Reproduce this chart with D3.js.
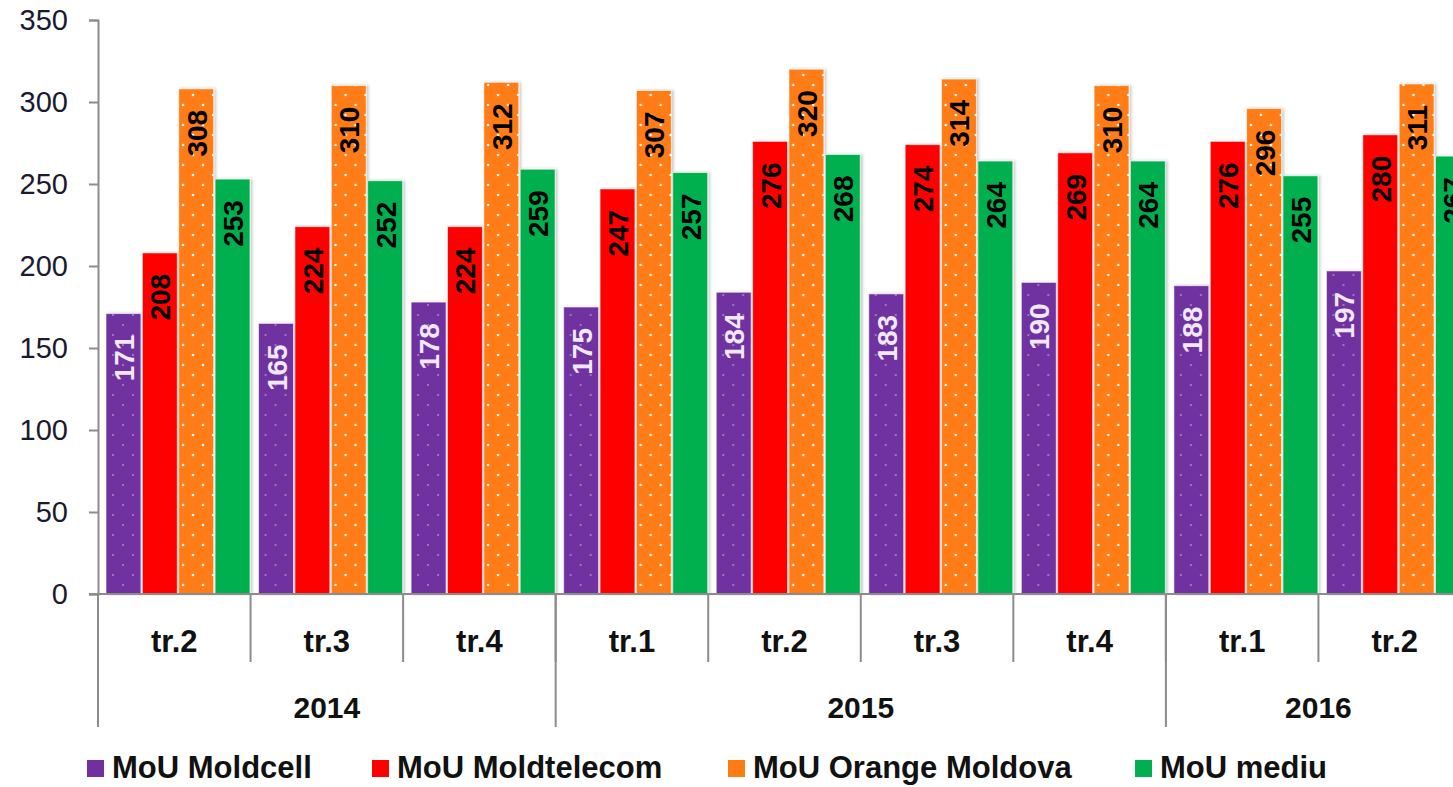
<!DOCTYPE html>
<html><head><meta charset="utf-8">
<script src="https://cdn.jsdelivr.net/npm/d3@7"></script>
<style>body{margin:0;background:#fff;overflow:hidden}svg{display:block}</style>
</head><body>
<script>
const quarters = ["tr.2","tr.3","tr.4","tr.1","tr.2","tr.3","tr.4","tr.1","tr.2"];
const years = [{name:"2014", span:3},{name:"2015", span:4},{name:"2016", span:2}];
const seriesNames = ["MoU Moldcell","MoU Moldtelecom","MoU Orange Moldova","MoU mediu"];
const moldcell   = [171,165,178,175,184,183,190,188,197];
const moldtelecom= [208,224,224,247,276,274,269,276,280];
const orange     = [308,310,312,307,320,314,310,296,311];
const mediu      = [253,252,259,257,268,264,264,255,267];
const yTicks = [0,50,100,150,200,250,300,350];
const colors = ["#7030a0","#ff0000","#ff7c12","#00b050"];
const labelColors = ["#f0e8f8","#000000","#000000","#000000"];
const values = [moldcell, moldtelecom, orange, mediu];

const W=1453,H=787;
const svg=d3.select("body").append("svg").attr("width",W).attr("height",H);
const defs=svg.append("defs");
function dotPattern(id,bg,dot,r){
  const p=defs.append("pattern").attr("id",id).attr("patternUnits","userSpaceOnUse").attr("width",20).attr("height",20);
  p.append("rect").attr("width",20).attr("height",20).attr("fill",bg);
  p.append("circle").attr("cx",5).attr("cy",5).attr("r",r).attr("fill",dot);
  p.append("circle").attr("cx",15).attr("cy",15).attr("r",r).attr("fill",dot);
}
dotPattern("pPurple","#7030a0","#a58abd",1.1);
dotPattern("pOrange","#ff7c12","#ffffff",1.3);
const fills=["url(#pPurple)","#ff0000","url(#pOrange)","#00b050"];
const sh=defs.append("filter").attr("id","sh").attr("x","-20%").attr("y","-5%").attr("width","150%").attr("height","110%");
sh.append("feDropShadow").attr("dx",2).attr("dy",0).attr("stdDeviation",1.5).attr("flood-color","#000").attr("flood-opacity",0.22);

const nGroups = quarters.length; // plot area extends slightly past the right edge of the frame
const x0=d3.scaleBand().domain(d3.range(nGroups)).range([98, 1471]).paddingInner(0).paddingOuter(0);
const x1=d3.scaleBand().domain(d3.range(4)).range([8,152]).paddingInner(0.04);
const y=d3.scaleLinear().domain([0,350]).range([594,20]);

const font="'Liberation Sans', Arial, sans-serif";
const axisColor="#8c8c8c";

const ya=svg.append("g").attr("transform","translate(98,0)").call(d3.axisLeft(y).tickValues(yTicks).tickSize(9).tickPadding(21));
ya.select(".domain").attr("stroke",axisColor).attr("stroke-width",2);
ya.selectAll(".tick line").attr("stroke",axisColor).attr("stroke-width",2);
ya.selectAll(".tick text").attr("font-family",font).attr("font-size",29).attr("fill","#1a1a30");

const g=svg.append("g");
moldcell.forEach((_,i)=>{
  const gg=g.append("g").attr("transform",`translate(${x0(i)},0)`);
  values.forEach((arr,s)=>{
    const v=arr[i];
    gg.append("rect").attr("x",x1(s)).attr("y",y(v)).attr("width",x1.bandwidth()).attr("height",y(0)-y(v))
      .attr("fill",fills[s]).attr("stroke","rgba(255,255,255,0.6)").attr("stroke-width",1).attr("filter","url(#sh)");
    const cx=x1(s)+x1.bandwidth()/2+1, ty=y(v)+21;
    gg.append("text").attr("transform",`translate(${cx},${ty}) rotate(-90)`)
      .attr("text-anchor","end").attr("dominant-baseline","central")
      .attr("font-family",font).attr("font-weight","bold").attr("font-size",28)
      .attr("fill",labelColors[s]).text(v);
  });
});

svg.append("line").attr("x1",89).attr("x2",1471).attr("y1",594).attr("y2",594).attr("stroke",axisColor).attr("stroke-width",2);
quarters.forEach((q,i)=>{
  svg.append("line").attr("x1",x0(i)).attr("x2",x0(i)).attr("y1",594).attr("y2",662).attr("stroke",axisColor).attr("stroke-width",2);
  svg.append("text").attr("x",x0(i)+x0.bandwidth()/2).attr("y",652).attr("text-anchor","middle")
    .attr("font-family",font).attr("font-weight","bold").attr("font-size",31).attr("fill","#111").text(q);
});
let idx=0;
years.forEach(yr=>{
  const xs=x0(idx), xe=x0(idx)+x0.bandwidth()*yr.span;
  svg.append("line").attr("x1",xs).attr("x2",xs).attr("y1",594).attr("y2",727).attr("stroke",axisColor).attr("stroke-width",2);
  svg.append("text").attr("x",(xs+xe)/2).attr("y",718).attr("text-anchor","middle")
    .attr("font-family",font).attr("font-weight","bold").attr("font-size",30).attr("fill","#111").text(yr.name);
  idx+=yr.span;
});

const legX=[87,372,728,1135];
seriesNames.forEach((n,s)=>{
  svg.append("rect").attr("x",legX[s]).attr("y",760).attr("width",17).attr("height",17).attr("fill",colors[s]);
  svg.append("text").attr("x",legX[s]+25).attr("y",778).attr("font-family",font).attr("font-weight","bold")
    .attr("font-size",31).attr("fill","#111").text(n);
});
</script>
</body></html>
